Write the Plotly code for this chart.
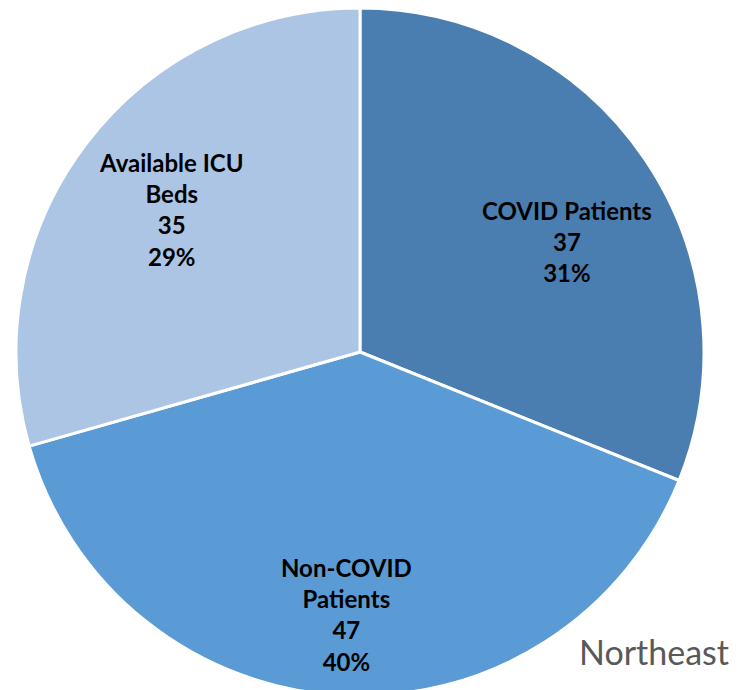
import math
import plotly.graph_objects as go

categories = ["COVID Patients", "Non-COVID Patients", "Available ICU Beds"]
label_text = ["COVID Patients", "Non-COVID<br>Patients", "Available ICU<br>Beds"]
values = [37, 47, 35]
pct_labels = ["31%", "40%", "29%"]
region = "Northeast"

# styles
colors = ["#4a7eb0", "#5b9bd5", "#adc5e5"]
label_radius = [0.685, 0.77, 0.69]
label_angle_shift = [6, 0, 0]  # degrees

W, H = 744, 690
cx, cy, R = 352, 344, 344  # figure pixel coords of pie domain centre / half-size

fig = go.Figure(go.Pie(
    labels=categories,
    values=values,
    textinfo="none",
    marker=dict(colors=colors, line=dict(color="white", width=3)),
    sort=False,
    direction="clockwise",
    rotation=0,
    domain=dict(x=[(cx - R) / W, (cx + R) / W], y=[(H - cy - R) / H, (H - cy + R) / H]),
    showlegend=False,
))

total = sum(values)
cum = 0
r_eff = R - 2
for lab, v, pct, rf, sh in zip(label_text, values, pct_labels, label_radius, label_angle_shift):
    mid = (cum + v / 2) / total * 2 * math.pi + math.radians(sh)
    cum += v
    px = cx + rf * r_eff * math.sin(mid)
    py = cy - rf * r_eff * math.cos(mid)
    fig.add_annotation(
        text=f"<b>{lab}<br>{v}<br>{pct}</b>",
        x=px / W, y=1 - py / H, xref="paper", yref="paper",
        xanchor="center", yanchor="middle", showarrow=False,
        font=dict(family="Lato", size=24, color="black"),
    )

fig.add_annotation(
    text=region, x=723 / W, y=1 - 666 / H, xref="paper", yref="paper",
    xanchor="right", yanchor="bottom", showarrow=False,
    font=dict(family="Lato", size=34, color="#595959"),
)

fig.update_layout(
    width=W, height=H,
    margin=dict(l=0, r=0, t=0, b=0),
    paper_bgcolor="white", plot_bgcolor="white",
)

fig.write_html("out.html")
